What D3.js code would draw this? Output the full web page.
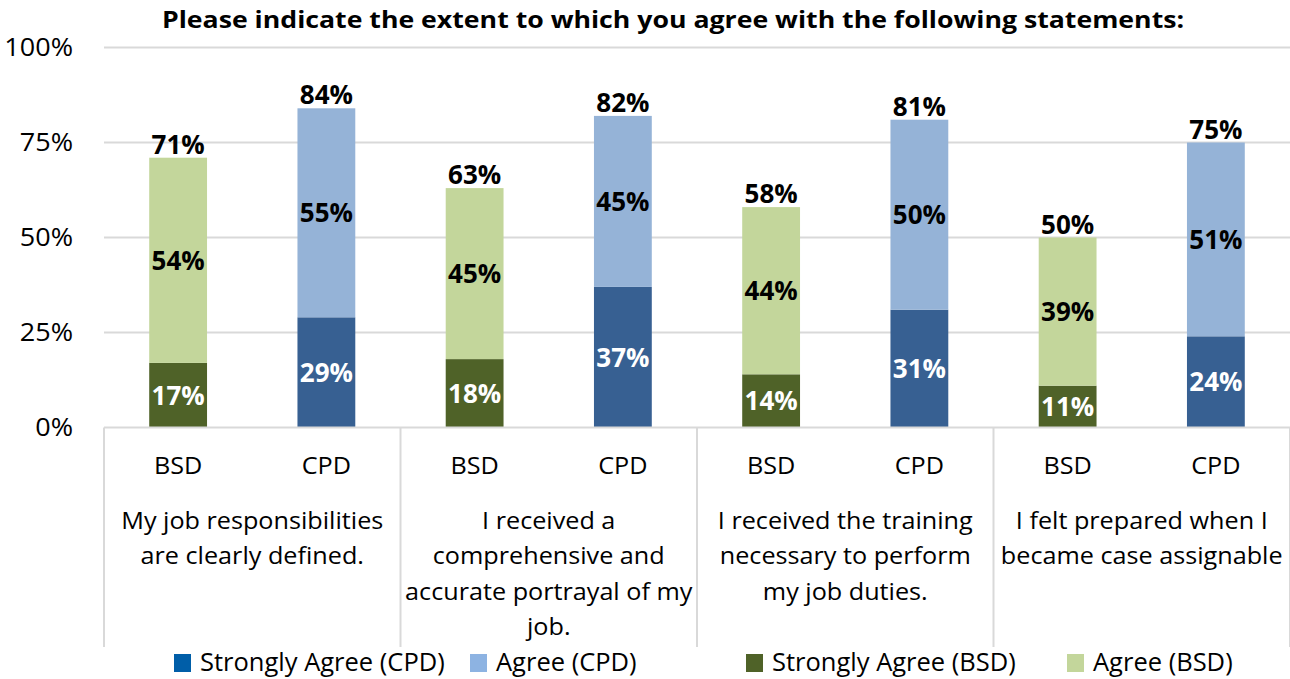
<!DOCTYPE html>
<html><head><meta charset="utf-8">
<script src="https://cdn.jsdelivr.net/npm/d3@7"></script>
<style>
body{margin:0;background:#fff;}
svg{display:block;font-family:"Open Sans",sans-serif;}
</style></head>
<body>
<svg id="chart" width="1290" height="679"></svg>
<script>
const groups = ["g1","g2","g3","g4"];
const groupLabels = [
  ["My job responsibilities","are clearly defined."],
  ["I received a","comprehensive and","accurate portrayal of my","job."],
  ["I received the training","necessary to perform","my job duties."],
  ["I felt prepared when I","became case assignable"]
];
const units = ["BSD","CPD"];
const bsdStrong = [17,18,14,11];
const bsdAgree  = [54,45,44,39];
const bsdTotal  = [71,63,58,50];
const cpdStrong = [29,37,31,24];
const cpdAgree  = [55,45,50,51];
const cpdTotal  = [84,82,81,75];
const yTicks = [0,25,50,75,100];
const legendLabels = ["Strongly Agree (CPD)","Agree (CPD)","Strongly Agree (BSD)","Agree (BSD)"];
const titleText = "Please indicate the extent to which you agree with the following statements:";

const colors = {
  BSD:{strong:"#4f6228", agree:"#c3d69b"},
  CPD:{strong:"#376092", agree:"#95b3d7"}
};
const legendColors = ["#005ea8","#8db3e2","#4f6228","#c3d69b"];

const svg = d3.select("#chart");
const plotL = 104, plotR = 1290, plotT = 47.5, plotB = 427.5;
const tr = (x,y,sx)=>`translate(${x},${y}) scale(${sx},1)`;

const x0 = d3.scaleBand().domain(groups).range([plotL,plotR]);
const x1 = d3.scalePoint().domain(units).range([0,x0.bandwidth()]).padding(0.5);
const barW = x1.step()*0.39;
const y = d3.scaleLinear().domain([0,100]).range([plotB,plotT]);

// gridlines
svg.append("g").selectAll("line").data(yTicks.filter(d=>d>0)).join("line")
  .attr("x1",plotL).attr("x2",plotR)
  .attr("y1",d=>y(d)).attr("y2",d=>y(d))
  .attr("stroke","#d9d9d9").attr("stroke-width",2);

// y axis labels
const yAxis = d3.axisLeft(y).tickValues(yTicks).tickFormat(d=>d+"%").tickSize(0).tickPadding(0);
const ya = svg.append("g").attr("transform","translate(73,0)").call(yAxis);
ya.select(".domain").remove();
ya.selectAll("text").attr("font-size",25.5).attr("font-family","Open Sans").attr("fill","#000")
  .attr("transform","scale(1.06,1)");

// data rows
const rows = [];
groups.forEach((g,i)=>{
  rows.push({g,u:"BSD",s:bsdStrong[i],a:bsdAgree[i],t:bsdTotal[i]});
  rows.push({g,u:"CPD",s:cpdStrong[i],a:cpdAgree[i],t:cpdTotal[i]});
});
const cx = d=>x0(d.g)+x1(d.u);

const bars = svg.append("g");
bars.selectAll("rect.s").data(rows).join("rect").attr("class","s")
  .attr("x",d=>cx(d)-barW/2).attr("width",barW)
  .attr("y",d=>y(d.s)).attr("height",d=>y(0)-y(d.s))
  .attr("fill",d=>colors[d.u].strong);
bars.selectAll("rect.a").data(rows).join("rect").attr("class","a")
  .attr("x",d=>cx(d)-barW/2).attr("width",barW)
  .attr("y",d=>y(d.s+d.a)).attr("height",d=>y(d.s)-y(d.s+d.a))
  .attr("fill",d=>colors[d.u].agree);

// baseline
svg.append("line").attr("x1",plotL).attr("x2",plotR).attr("y1",y(0)).attr("y2",y(0))
  .attr("stroke","#d9d9d9").attr("stroke-width",2);

// group separators
const seps = groups.map(g=>x0(g)).concat([plotR]);
svg.append("g").selectAll("line").data(seps).join("line")
  .attr("x1",d=>d).attr("x2",d=>d).attr("y1",y(0)).attr("y2",647)
  .attr("stroke","#d9d9d9").attr("stroke-width",2);

// labels
const labS = 1.0;
const lab = svg.append("g").attr("font-weight","bold").attr("font-size",26).attr("text-anchor","middle");
lab.selectAll("text.s").data(rows).join("text").attr("class","s")
  .attr("transform",d=>tr(cx(d),y(d.s/2),labS)).attr("dy","0.36em")
  .attr("fill","#fff").text(d=>d.s+"%");
lab.selectAll("text.a").data(rows).join("text").attr("class","a")
  .attr("transform",d=>tr(cx(d),y(d.s+d.a/2),labS)).attr("dy","0.36em")
  .attr("fill","#000").text(d=>d.a+"%");
lab.selectAll("text.t").data(rows).join("text").attr("class","t")
  .attr("transform",d=>tr(cx(d),y(d.t)-4,labS))
  .attr("fill","#000").text(d=>d.t+"%");

// category axis labels
const catS = 1.05;
const cat = svg.append("g").attr("font-size",24).attr("text-anchor","middle").attr("fill","#000");
cat.selectAll("text.u").data(rows).join("text").attr("class","u")
  .attr("transform",d=>tr(cx(d),474,catS)).text(d=>d.u);
groups.forEach((g,i)=>{
  const t = cat.append("text").attr("transform",tr(x0(g)+x0.bandwidth()/2,529,catS));
  groupLabels[i].forEach((ln,j)=>{
    t.append("tspan").attr("x",0).attr("y",j*35.5).text(ln);
  });
});

// title
svg.append("text").attr("transform",tr(673,28,1.16)).attr("text-anchor","middle")
  .attr("font-weight","bold").attr("font-size",23).text(titleText);

// legend
const legX = [174,470,746,1067];
const leg = svg.append("g");
legendLabels.forEach((l,i)=>{
  leg.append("rect").attr("x",legX[i]).attr("y",654).attr("width",17).attr("height",18).attr("fill",legendColors[i]);
  leg.append("text").attr("transform",tr(legX[i]+26,671,1.02)).attr("font-size",25).text(l);
});
</script>
</body></html>
